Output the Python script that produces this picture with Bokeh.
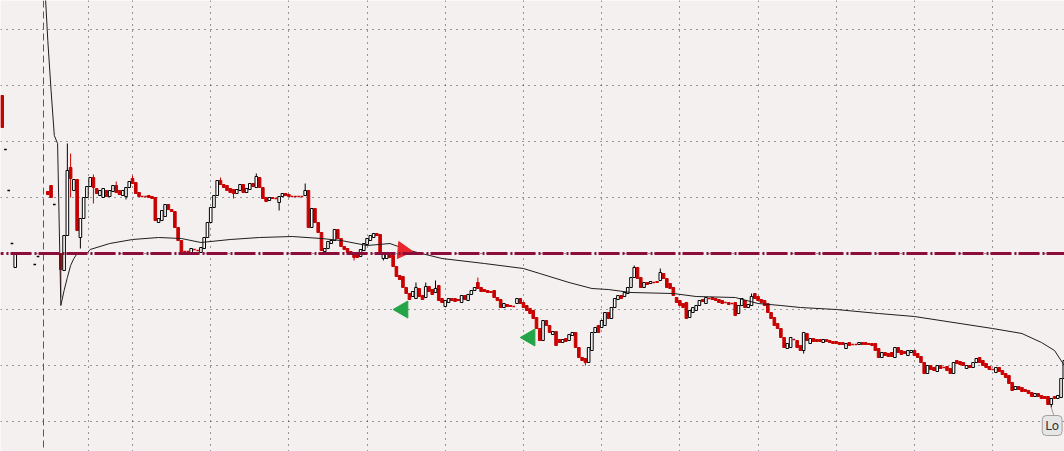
from bokeh.plotting import figure
from bokeh.models import Range1d, Span, Grid, FixedTicker, Label, ColumnDataSource
from bokeh.embed import file_html
from bokeh.resources import INLINE

# ---------------- data (values in ticks relative to the reference level) ----------------
bar = list(range(-14, 313))

opens = [
    158, 104, 63, 10, -14, None, None, None, None, None, -11, -3, None, None,
    62, 68, 49, None, 0, -17, 18, 86, 63, 74,
    16, 35, 56, 67, 76, 65, 58, 56, 63, 57,
    62, 68, 63, 58, 57, 66, 75, 71, 61, 57,
    57, 58, 57, 56, 31, 33, 37, 49, 44, 42,
    26, 13, 2, 2, 1, 4, 3, 1, 5, 16,
    31, 46, 58, 73, 69, 68, 65, 64, 60, 63,
    69, 61, 64, 70, 66, 76, 66, 56, 53, 56,
    55, 51, 57, 60, 59, 57, 57, 57, 57, 58,
    63, 26, 45, 31, 21, 2, 5, 10, 13, 24,
    15, 7, 5, 2, 1, -1, -3, 3, 9, 13,
    16, 20, 19, -5, -5, 0, -2, -13, -22, -23,
    -34, -40, -43, -45, -35, -42, -44, -33, -36, -39,
    -32, -45, -53, -49, -45, -45, -46, -49, -42, -47,
    -41, -37, -29, -34, -36, -37, -38, -37, -44, -46,
    -54, -51, -52, -53, -50, -45, -49, -52, -55, -57,
    -64, -75, -87, -67, -72, -81, -78, -86, -89, -85,
    -87, -82, -79, -94, -104, -105, -109, -97, -79, -72,
    -74, -72, -59, -65, -54, -46, -42, -43, -40, -34,
    -24, -14, -24, -34, -29, -30, -29, -28, -27, -20,
    -25, -30, -34, -44, -47, -50, -49, -64, -59, -57,
    -52, -46, -50, -45, -44, -45, -46, -47, -49, -49,
    -50, -49, -60, -52, -47, -54, -52, -40, -43, -46,
    -47, -50, -59, -64, -70, -75, -84, -95, -94, -86,
    -87, -92, -97, -80, -90, -85, -86, -86, -89, -86,
    -87, -88, -88, -89, -89, -95, -89, -91, -91, -91,
    -89, -89, -90, -90, -90, -95, -104, -99, -100, -99,
    -104, -94, -97, -98, -102, -99, -97, -100, -103, -109,
    -120, -112, -114, -118, -112, -114, -113, -115, -120, -107,
    -108, -109, -115, -112, -114, -109, -104, -107, -110, -113,
    -116, -119, -114, -117, -120, -122, -129, -136, -133, -134,
    -136, -137, -139, -143, -140, -142, -143, -143, -151, -143,
    -145, -144, -125,
]

closes = [
    126, 104, 63, 10, 1, None, None, None, None, None, -11, -3, None, None,
    59, 56, 49, None, -16, 18, 83, 75, 74, 23,
    35, 56, 67, 76, 66, 60, 63, 65, 57, 63,
    68, 61, 59, 63, 66, 72, 70, 60, 57, 57,
    57, 56, 55, 33, 35, 43, 49, 44, 42, 26,
    13, 1, 2, 2, 5, 4, 3, 6, 16, 31,
    46, 58, 73, 69, 66, 63, 61, 60, 64, 69,
    61, 65, 70, 67, 77, 66, 55, 52, 56, 55,
    55, 57, 60, 58, 57, 57, 57, 57, 57, 63,
    26, 45, 31, 21, 3, 5, 12, 13, 24, 15,
    7, 4, 1, -1, -4, -4, 4, 10, 15, 18,
    20, 18, 0, 0, -1, -4, -13, -23, -26, -34,
    -40, -46, -38, -34, -43, -46, -33, -38, -41, -35,
    -47, -49, -47, -45, -47, -48, -47, -42, -46, -41,
    -37, -34, -35, -38, -38, -39, -39, -44, -47, -54,
    -50, -53, -53, -53, -45, -50, -54, -57, -60, -65,
    -75, -87, -67, -72, -79, -78, -92, -89, -86, -88,
    -81, -79, -94, -104, -107, -109, -94, -79, -74, -79,
    -67, -59, -65, -54, -45, -42, -45, -39, -34, -24,
    -14, -25, -34, -29, -31, -28, -29, -29, -19, -25,
    -34, -35, -42, -49, -52, -54, -65, -57, -54, -52,
    -47, -48, -44, -45, -46, -47, -49, -50, -49, -51,
    -50, -62, -52, -45, -54, -51, -43, -45, -47, -49,
    -52, -59, -65, -72, -75, -84, -94, -90, -84, -86,
    -94, -97, -79, -87, -85, -88, -88, -88, -86, -88,
    -89, -90, -90, -91, -91, -90, -92, -91, -91, -89,
    -91, -91, -91, -92, -97, -104, -99, -102, -103, -103,
    -94, -99, -101, -100, -97, -97, -102, -104, -109, -120,
    -112, -116, -117, -112, -115, -114, -117, -120, -109, -110,
    -111, -112, -112, -114, -109, -105, -109, -112, -114, -116,
    -116, -114, -118, -121, -124, -130, -137, -133, -136, -138,
    -138, -140, -143, -140, -143, -145, -145, -151, -145, -145,
    -142, -125, -107,
]

# visible wick extremes (bar -> value)
wick_high = {6: 110, 7: 100, 14: 79, 21: 72, 26: 78, 53: 76, 64: 80, 79: 70,
             113: -29, 116: -29, 119: -27, 132: -24, 180: -12, 188: -15, 216: -40}
wick_low = {4: -44, 7: 56, 10: 5, 14: 50, 24: 54, 57: 55, 71: 43, 94: -7,
            103: -7, 165: -112, 232: -100, 308: -154}

# moving-average line
ma_bar = [-1, 0, 1, 2, 3, 4, 5, 6, 7, 8, 9, 12, 13, 19, 26, 34, 41, 47, 56, 65, 75,
          84, 90, 98, 105, 111, 121, 134, 146, 151, 160, 167, 172, 179, 192, 199,
          211, 218, 225, 231, 242, 255, 266, 280, 290, 299, 305, 309, 312]
ma_val = [273, 213, 163, 118, 110, -52, -37, -24, -12, -5, 0, 0, 4, 10, 14, 16, 15,
          11, 14, 16, 17, 15, 13, 8, 10, 3, -5, -10, -15, -20, -29, -35, -36, -39,
          -40, -43, -44, -50, -52, -54, -56, -60, -63, -70, -75, -80, -89, -97, -112]

# trade signals
sell_bar, sell_val = [109], [3]
buy_bar, buy_val = [109, 148], [-56, -84]

reference_level = 0
session_start = -1.32
x_grid_ticks = [12.5, 26, 50, 74, 98, 122, 146, 170, 194, 218, 242, 266, 290]
y_grid_ticks = [-168, -112, -56, 0, 56, 112, 168, 224]
low_bar = 308
low_text = "Lo"

# ---------------- styling ----------------
BG = "#f4f0ef"
RED = "#c80000"
BODY_W = 0.8

p = figure(width=1064, height=451,
           x_range=Range1d(-14.52, 312.06), y_range=Range1d(-198, 253),
           x_axis_type=None, y_axis_type=None,
           toolbar_location=None, output_backend="svg", min_border=0,
           background_fill_color=BG, border_fill_color=BG, outline_line_color=None)
p.styles = {"position": "absolute", "left": "0px", "top": "0px"}

p.add_layout(Grid(dimension=0, ticker=FixedTicker(ticks=x_grid_ticks),
                  grid_line_color="#3a3a3a", grid_line_dash="1 5", grid_line_width=1))
p.add_layout(Grid(dimension=1, ticker=FixedTicker(ticks=y_grid_ticks),
                  grid_line_color="#3a3a3a", grid_line_dash="1 5", grid_line_width=1))

p.add_layout(Span(location=session_start, dimension="height", line_color="#5a5a5a",
                  line_width=1, line_dash="7 4"))

# split candles
up = dict(x=[], top=[], bottom=[])
dn = dict(x=[], top=[], bottom=[])
dj_red = dict(x0=[], x1=[], y=[])
dj_blk = dict(x0=[], x1=[], y=[])
wk_up = dict(x=[], y0=[], y1=[])
wk_dn = dict(x=[], y0=[], y1=[])
for b, o, c in zip(bar, opens, closes):
    if o is None or c is None:
        continue
    hi = max(o, c, wick_high.get(b, max(o, c)))
    lo = min(o, c, wick_low.get(b, min(o, c)))
    if c > o:
        up["x"].append(b); up["top"].append(c); up["bottom"].append(o)
        wk = wk_up
    elif c < o:
        dn["x"].append(b); dn["top"].append(o); dn["bottom"].append(c)
        wk = wk_dn
    else:
        d = dj_blk if b < 3 else dj_red
        d["x0"].append(b - BODY_W / 2); d["x1"].append(b + BODY_W / 2); d["y"].append(c)
        wk = wk_dn
    if hi > lo and (hi > max(o, c) or lo < min(o, c)):
        wk["x"].append(b); wk["y0"].append(lo); wk["y1"].append(hi)

p.segment(x0="x", x1="x", y0="y0", y1="y1", source=ColumnDataSource(wk_dn),
          line_color=RED, line_width=1)
p.segment(x0="x", x1="x", y0="y0", y1="y1", source=ColumnDataSource(wk_up),
          line_color="black", line_width=1)
p.vbar(x="x", top="top", bottom="bottom", width=BODY_W, source=ColumnDataSource(dn),
       fill_color=RED, line_color=RED, line_width=1)
p.vbar(x="x", top="top", bottom="bottom", width=BODY_W, source=ColumnDataSource(up),
       fill_color="white", line_color="black", line_width=1)
p.segment(x0="x0", x1="x1", y0="y", y1="y", source=ColumnDataSource(dj_red),
          line_color=RED, line_width=1.5)
p.segment(x0="x0", x1="x1", y0="y", y1="y", source=ColumnDataSource(dj_blk),
          line_color="black", line_width=1.5)

# reference level
p.add_layout(Span(location=reference_level, dimension="width", line_color="#8c0c3a",
                  line_width=3, line_dash="21 3 2 2", line_dash_offset=18))

# moving average
p.line(ma_bar, ma_val, line_color="#1e1e1e", line_width=1)

# signals
p.scatter(sell_bar, sell_val, marker="triangle", size=17, angle=-95, angle_units="deg",
          fill_color="#e8262c", line_color="#e8262c")
p.scatter(buy_bar, buy_val, marker="triangle", size=17, angle=90, angle_units="deg",
          fill_color="#22a447", line_color="#22a447")

# low flag
lo_val = wick_low[low_bar]
p.segment(x0=[low_bar], y0=[lo_val], x1=[low_bar + 1], y1=[lo_val - 10],
          line_color="#9a9a9a", line_width=1)
p.add_layout(Label(x=low_bar, y=lo_val, text=low_text, x_offset=-9, y_offset=-8,
                   text_baseline="top", text_align="left", text_font_size="12px",
                   text_font="DejaVu Sans", text_color="#333333",
                   background_fill_color="#e6e6e6", border_line_color="#a0a0a0",
                   border_radius=4, padding=3))

open("out.html", "w").write(file_html(p, INLINE))
